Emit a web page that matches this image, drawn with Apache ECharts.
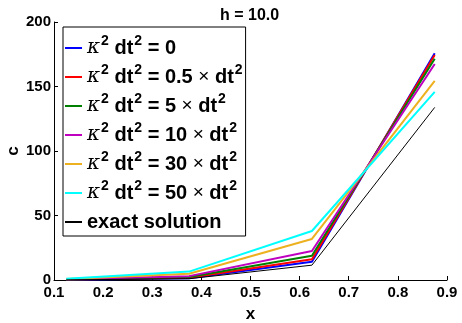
<!DOCTYPE html>
<html>
<head>
<meta charset="utf-8">
<script src="https://cdn.jsdelivr.net/npm/echarts@6/dist/echarts.min.js"></script>
<style>html,body{margin:0;padding:0;background:#fff;}#c{width:462px;height:323px;}</style>
</head>
<body>
<div id="c"></div>
<script>
var xs = [0.125, 0.375, 0.625, 0.875];
var k0 = [0.2, 1.4, 14.2, 175.7];
var k05 = [0.3, 1.8, 16.0, 174.4];
var k5 = [0.4, 2.3, 18.8, 171.5];
var k10 = [0.5, 3.0, 22.5, 167.5];
var k30 = [0.8, 4.8, 31.8, 154.3];
var k50 = [1.0, 6.5, 38.0, 145.8];
var exact = [0.1, 1.0, 11.5, 133.8];
var names = ['k0', 'k05', 'k5', 'k10', 'k30', 'k50', 'exact'];
var labels = [
  '{k|κ}{s|2}{m| dt}{s|2}{m| = 0}',
  '{k|κ}{s|2}{m| dt}{s|2}{m| = 0.5 }{x|×}{m| dt}{s|2}',
  '{k|κ}{s|2}{m| dt}{s|2}{m| = 5 }{x|×}{m| dt}{s|2}',
  '{k|κ}{s|2}{m| dt}{s|2}{m| = 10 }{x|×}{m| dt}{s|2}',
  '{k|κ}{s|2}{m| dt}{s|2}{m| = 30 }{x|×}{m| dt}{s|2}',
  '{k|κ}{s|2}{m| dt}{s|2}{m| = 50 }{x|×}{m| dt}{s|2}',
  '{m|exact solution}'
];
var colors = ['#0000ff', '#ff0000', '#008000', '#bf00bf', '#edb120', '#00ffff', '#000000'];
var widths = [2, 2, 2, 2, 2, 2, 1];
var dataSets = [k0, k05, k5, k10, k30, k50, exact];

var FF = '"Liberation Sans", Arial, Helvetica, sans-serif';
var series = dataSets.map(function (d, i) {
  return {
    name: names[i],
    type: 'line',
    data: xs.map(function (x, j) { return [x, d[j]]; }),
    symbol: 'none',
    color: colors[i],
    lineStyle: { color: colors[i], width: widths[i] },
    animation: false
  };
});
var labelMap = {};
names.forEach(function (n, i) { labelMap[n] = labels[i]; });

var chart = echarts.init(document.getElementById('c'));
chart.setOption({
  animation: false,
  backgroundColor: '#fff',
  title: {
    text: 'h = 10.0',
    left: 220, top: 8, padding: 0,
    textStyle: { fontFamily: FF, fontWeight: 'bold', fontSize: 16, color: '#000' }
  },
  grid: { left: 54, right: 15, top: 22, bottom: 43, containLabel: false, outerBoundsMode: 'none' },
  xAxis: {
    type: 'value', min: 0.1, max: 0.9, interval: 0.1,
    name: 'x', nameLocation: 'middle', nameGap: 26, nameMoveOverlap: false,
    nameTextStyle: { fontFamily: FF, fontWeight: 'bold', fontSize: 17, color: '#000' },
    axisLine: { show: true, lineStyle: { color: '#000', width: 1 } },
    axisTick: { show: true, inside: true, length: 4, lineStyle: { color: '#000' } },
    axisLabel: { margin: 5, fontFamily: FF, fontWeight: 'bold', fontSize: 15, color: '#000',
      formatter: function (v) { return v.toFixed(1); } },
    splitLine: { show: false }
  },
  yAxis: {
    type: 'value', min: 0, max: 200, interval: 50,
    name: 'c', nameLocation: 'middle', nameGap: 32, nameRotate: 90, nameMoveOverlap: false,
    nameTextStyle: { fontFamily: FF, fontWeight: 'bold', fontSize: 17, color: '#000' },
    axisLine: { show: true, lineStyle: { color: '#000', width: 1 } },
    axisTick: { show: true, inside: true, length: 4, lineStyle: { color: '#000' } },
    axisLabel: { margin: 3, fontFamily: FF, fontWeight: 'bold', fontSize: 15, color: '#000' },
    splitLine: { show: false }
  },
  legend: {
    orient: 'vertical', left: 63, top: 27,
    padding: [7, 3, 0, 2],
    itemGap: 1, itemWidth: 17, itemHeight: 2,
    icon: 'rect',
    backgroundColor: '#fff', borderColor: '#000', borderWidth: 1, borderRadius: 0,
    data: names,
    formatter: function (n) { return labelMap[n]; },
    textStyle: {
      fontFamily: FF, fontWeight: 'bold', fontSize: 20, color: '#000', lineHeight: 28,
      rich: {
        m: { fontFamily: FF, fontWeight: 'bold', fontSize: 20, lineHeight: 28, color: '#000' },
        k: { fontFamily: '"DejaVu Serif", serif', fontStyle: 'italic', fontWeight: 'normal', fontSize: 20, lineHeight: 28, color: '#000' },
        s: { fontFamily: FF, fontWeight: 'bold', fontSize: 14, lineHeight: 14, padding: [0, 0, 14, 1], color: '#000' },
        x: { fontFamily: FF, fontWeight: 'normal', fontSize: 19, lineHeight: 28, color: '#000' }
      }
    }
  },
  series: series
});
</script>
</body>
</html>
